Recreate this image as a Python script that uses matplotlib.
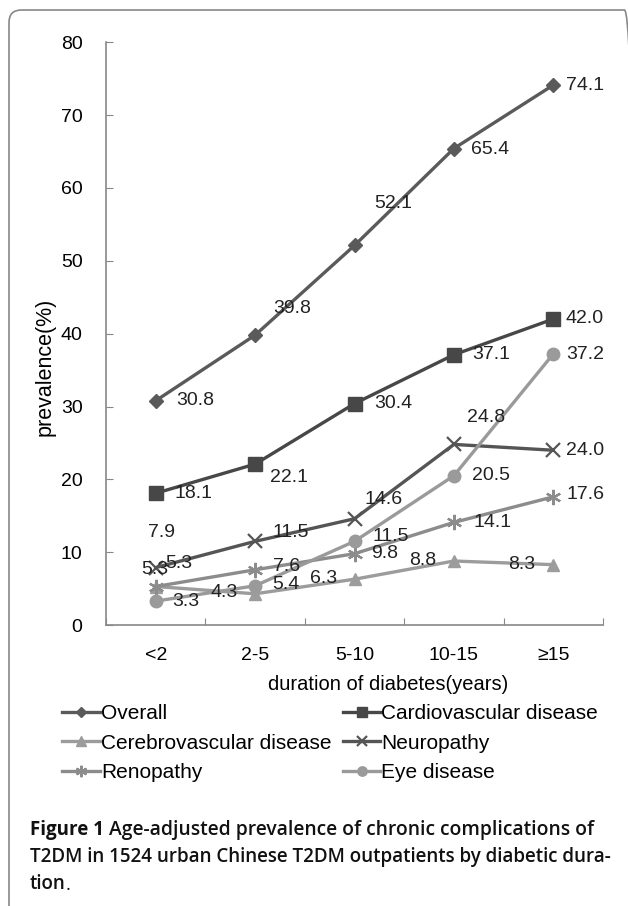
import matplotlib.pyplot as plt
from matplotlib.patches import FancyBboxPatch

# data
categories = ['<2', '2-5', '5-10', '10-15', '≥15']
overall = [30.8, 39.8, 52.1, 65.4, 74.1]
cardio = [18.1, 22.1, 30.4, 37.1, 42.0]
cerebro = [5.3, 4.3, 6.3, 8.8, 8.3]
neuro = [7.9, 11.5, 14.6, 24.8, 24.0]
reno = [5.3, 7.6, 9.8, 14.1, 17.6]
eye = [3.3, 5.4, 11.5, 20.5, 37.2]
names = ['Overall', 'Cardiovascular disease', 'Cerebrovascular disease',
         'Neuropathy', 'Renopathy', 'Eye disease']

plt.rcParams['font.family'] = ['Liberation Sans', 'DejaVu Sans']

fig = plt.figure(figsize=(6.28, 9.06), dpi=100)
ax = fig.add_axes([0.169, 0.310, 0.791, 0.6435])

x = list(range(len(categories)))
series = [overall, cardio, cerebro, neuro, reno, eye]
colors = ['#5a5a5a', '#474747', '#9c9c9c', '#555555', '#8c8c8c', '#9a9a9a']
markers = ['D', 's', '^', 'x', (6, 2, 0), 'o']
msizes = [7, 9.5, 9, 10, 11, 9]
# label offsets in pixels (right, down) from the point, per series
offsets_px = [
    [(20, 0), (18, -27), (20, -42), (17, 1), (13, 0)],
    [(19, 0), (15, 13), (20, 0), (18, 0), (12, -1)],
    [(-15, -17), (-45, -1), (-45, -1), (-45, -1), (-45, 0)],
    [(-8, -35), (17, -9), (10, -19), (13, -27), (13, 0)],
    [(9, -23), (18, -3), (17, 0), (20, 0), (13, -2)],
    [(16, 0), (17, -1), (18, -5), (18, 0), (13, 0)],
]

handles = []
for vals, c, m, ms, name, offs in zip(series, colors, markers, msizes, names, offsets_px):
    mew = 1.6 if m in ('x', (6, 2, 0)) else 1
    h, = ax.plot(x, vals, color=c, lw=2.4, marker=m, ms=ms, mec=c, mfc=c,
                 mew=mew, label=name)
    handles.append(h)
    for xi, v, (dx, dy) in zip(x, vals, offs):
        ax.annotate(f'{v:.1f}', (xi, v), xytext=(dx * 0.72, -dy * 0.72),
                    textcoords='offset points', ha='left', va='center',
                    fontsize=14, color='#222222')

ax.set_xlim(-0.5, 4.5)
ax.set_ylim(0, 80)
ax.set_yticks(range(0, 81, 10))
ax.set_xticks([i - 0.5 for i in range(6)])
ax.set_xticklabels([])
ax.set_xticks(x, minor=True)
ax.set_xticklabels(categories, minor=True)
ax.tick_params(axis='x', which='minor', length=0, pad=16, labelsize=14)
ax.tick_params(axis='x', which='major', direction='in', length=5, color='#888888')
ax.tick_params(axis='y', direction='in', length=5, color='#888888', pad=17,
               labelsize=14)
for s in ['top', 'right']:
    ax.spines[s].set_visible(False)
for s in ['left', 'bottom']:
    ax.spines[s].set_color('#888888')
    ax.spines[s].set_linewidth(1.2)

fig.text(45 / 628, 1 - 367 / 906, 'prevalence(%)', rotation=90, ha='center',
         va='center', fontsize=15.5)
fig.text(388 / 628, 1 - 684 / 906, 'duration of diabetes(years)', ha='center',
         va='center', fontsize=14.5)

order = [0, 2, 4, 1, 3, 5]
fig.legend([handles[i] for i in order], [names[i] for i in order], ncol=2,
           loc='upper left', bbox_to_anchor=(54 / 628, 1 - 696 / 906), frameon=False,
           fontsize=15, handlelength=1.8, handletextpad=0.05, columnspacing=0.55,
           labelspacing=0.5, borderaxespad=0, markerscale=0.75)

# rounded frame around the figure panel
frame = FancyBboxPatch((9 / 628, -0.05), 1.0, 1 - 10 / 906 + 0.05,
                       boxstyle='round,pad=0,rounding_size=0.02',
                       transform=fig.transFigure, fill=False, ec='#888888', lw=1.2,
                       mutation_aspect=628 / 906)
fig.patches.append(frame)

cap = dict(family=['Open Sans', 'DejaVu Sans'], color='#111111')
t1 = fig.text(30 / 628, 1 - 830 / 906, 'Figure 1', fontweight='bold', va='center',
              fontsize=13.5, **cap)
ax.annotate('Age-adjusted prevalence of chronic complications of', xy=(1, 0.5),
            xycoords=t1, xytext=(4, 0), textcoords='offset points',
            ha='left', va='center', fontweight='semibold', fontsize=13.85, **cap)
fig.text(30 / 628, 1 - 857 / 906,
         'T2DM in 1524 urban Chinese T2DM outpatients by diabetic dura-',
         fontweight='semibold', va='center', fontsize=13.5, **cap)
t3 = fig.text(30 / 628, 1 - 884 / 906, 'tion', fontweight='semibold', va='center',
              fontsize=13.5, **cap)
ax.annotate('.', xy=(1, 0), xycoords=t3, xytext=(0, 0), textcoords='offset points',
            ha='left', va='bottom', fontsize=13.5, **cap)

fig.savefig('out.png', dpi=100)
